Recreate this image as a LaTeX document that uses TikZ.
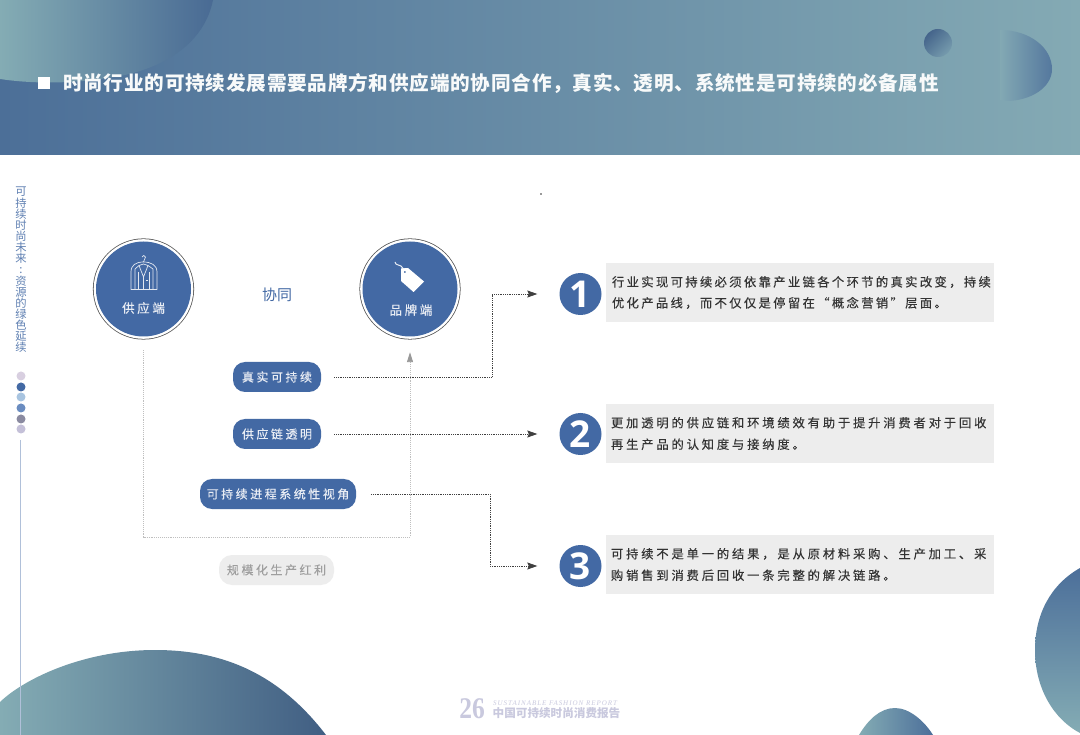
\documentclass[tikz,border=0pt]{standalone}
\usepackage{fontspec}
\usetikzlibrary{arrows.meta,calc}
\setmainfont{Liberation Serif}
\newfontfamily\cjk{Noto Sans CJK SC}
\newfontfamily\cjksp[LetterSpace=21,FakeBold=0.25]{Noto Sans CJK SC}
\newfontfamily\cjkboxa[LetterSpace=19.2,FakeBold=0.25]{Noto Sans CJK SC}
\newfontfamily\cjkboxb[LetterSpace=23,FakeBold=0.25]{Noto Sans CJK SC}
\newfontfamily\cjktitle[LetterSpace=4]{Noto Sans CJK SC}
\newfontfamily\numfont{Open Sans}
\newfontfamily\pgfont[FakeStretch=0.85]{Liberation Serif}
\newcommand{\fwc}{\char"FF0C\relax}
\definecolor{hdrA}{HTML}{4C6F98}
\definecolor{hdrM}{HTML}{7BA1B0}
\definecolor{hdrB}{HTML}{84AAB4}
\definecolor{deep}{HTML}{4C6F9A}
\definecolor{teal}{HTML}{84ACB4}
\definecolor{pillblue}{HTML}{4369A4}
\definecolor{boxgrey}{HTML}{EDEDED}
\definecolor{foot}{HTML}{C9C9DE}
\definecolor{dotA}{HTML}{D8CFE0}
\definecolor{dotC}{HTML}{A8C4E0}
\definecolor{dotD}{HTML}{6A8CC0}
\definecolor{dotE}{HTML}{8A8AA0}
\definecolor{dotF}{HTML}{C4C0D8}
\tikzset{
  pill/.style={fill=pillblue,rounded corners=12pt,minimum height=30pt,inner sep=0pt,text=white!88!pillblue,font=\cjksp\fontsize{12}{12}\selectfont},
  greypill/.style={fill=boxgrey,rounded corners=13pt,minimum height=30pt,minimum width=115pt,inner sep=0pt,text=black!38,font=\cjksp\fontsize{12}{12}\selectfont},
  hub/.style={circle,fill=pillblue,minimum size=95pt,inner sep=0pt},
  ring/.style={draw=black!65,line width=1.2pt},
  hublabel/.style={inner sep=0pt,text=white!88!pillblue,font=\cjksp\fontsize{12.5}{12.5}\selectfont},
  numdisc/.style={circle,fill=pillblue,minimum size=42pt,inner sep=0pt,text=white,font=\numfont\bfseries\fontsize{37}{37}\selectfont},
  textbox/.style={fill=boxgrey,minimum width=388pt,minimum height=59pt,inner xsep=5pt,inner ysep=0pt,align=left,text=black!80},
  boxa/.style={textbox,text width=376pt,font=\cjkboxa\fontsize{12.3}{21}\selectfont},
  boxb/.style={textbox,text width=378pt,font=\cjkboxb\fontsize{12.3}{21.5}\selectfont},
  flow/.style={draw=black!75,line width=0.8pt,densely dotted,-{Stealth[length=10pt,width=7pt,inset=1.5pt]}},
  backflow/.style={draw=black!25,line width=0.9pt,densely dotted,-{Stealth[length=10pt,width=6pt,inset=0pt,black!40]}},
  icon/.style={draw=white!85!pillblue,line width=0.7pt,line join=round},
  sdot/.style={circle,minimum size=9pt,inner sep=0pt}
}
\begin{document}
\begin{tikzpicture}[x=1pt,y=-1pt]
\useasboundingbox (0,0) rectangle (1080,735);
\clip (0,0) rectangle (1080,735);
\fill[white] (0,0) rectangle (1080,735);

% header band
\shade[left color=hdrA,middle color=hdrM,right color=hdrB] (0,0) rectangle (1080,155);
\shade[left color=teal,right color=deep!96!black] (0,0) -- (213,0) .. controls (205,40) and (170,65) .. (125,75) .. controls (85,83) and (40,85) .. (0,79) -- cycle;
\shade[left color=hdrB!85!hdrM,right color=deep!85!hdrB] (1000,30) .. controls (1030,30) and (1052,48) .. (1052,69) .. controls (1052,88) and (1030,101) .. (1006,101) .. controls (1003,101) and (1001,100) .. (1000,100) -- cycle;
\shade[top color=deep!90!black,bottom color=hdrB!75!deep,shading angle=45] (938,43) circle (14);

% title
\node[fill=white,minimum size=12pt,inner sep=0pt] (bullet) at (44,83) {};
\node[anchor=west,inner sep=0pt,text=white!94!teal,font=\cjktitle\bfseries\fontsize{19.6}{20}\selectfont] (title) at (63,83) {时尚行业的可持续发展需要品牌方和供应端的协同合作\fwc 真实、透明、系统性是可持续的必备属性};

% side text
\node[inner sep=0pt,align=center,text=pillblue!85!white,font=\cjk\fontsize{11.3}{11.13}\selectfont] (side) at (21,270) {可\\持\\续\\时\\尚\\未\\来\\:\\资\\源\\的\\绿\\色\\延\\续};
\node[sdot,fill=dotA] (d1) at (21,376) {};
\node[sdot,fill=pillblue] (d2) at (21,387) {};
\node[sdot,fill=dotC] (d3) at (21,397) {};
\node[sdot,fill=dotD] (d4) at (21,408) {};
\node[sdot,fill=dotE] (d5) at (21,419) {};
\node[sdot,fill=dotF] (d6) at (21,429) {};
\coordinate (speck) at (541,194);
\fill[black!80] (speck) circle (0.8);

% bottom blobs
\shade[left color=teal,right color=deep!85!black] (0,702) .. controls (25,678) and (85,650) .. (155,650) .. controls (225,650) and (280,675) .. (326,735) -- (0,735) -- cycle;
\shade[left color=teal,right color=deep] (859,735) .. controls (868,720) and (880,708) .. (895,708) .. controls (910,708) and (925,722) .. (933,735) -- cycle;
\shade[top color=deep,middle color=teal,bottom color=teal] (1080,568) .. controls (1050,585) and (1035,615) .. (1035,650) .. controls (1035,690) and (1055,720) .. (1080,733) -- cycle;
\coordinate (lineA) at (20.5,440);
\coordinate (lineB) at (20.5,735);
\draw[pillblue!42!white,line width=0.8pt] (lineA) -- (lineB);

% hubs
\node[hub] (sup) at (143.5,289) {};
\node[hub] (brand) at (410,289) {};
\draw[ring] (sup) circle (50);
\draw[ring] (brand) circle (50);
\draw[white,line width=1.6pt] (sup) circle (49);
\draw[white,line width=1.6pt] (brand) circle (49);
\node[hublabel] (supl) at (143.5,308) {供应端};
\node[hublabel] (brandl) at (411,310) {品牌端};
\node[inner sep=0pt,text=pillblue,font=\cjk\fontsize{15}{15}\selectfont] (xt) at (277,295) {协同};

% jacket icon
\draw[icon] (143.5,262) .. controls (143.5,259) and (146,259) .. (145.5,257) .. controls (145,255) and (142.5,255) .. (142,257);
\draw[icon] (131,289.5) -- (131,272) .. controls (131,265) and (136,262) .. (143.5,262) .. controls (151,262) and (157,265) .. (157,272) -- (157,289.5) -- cycle;
\draw[icon] (135,289.5) -- (135,269) -- (139,265.5) -- (143.5,277) -- (148,265.5) -- (153,269) -- (153,289.5);
\draw[icon] (139,265.5) -- (143.5,264) -- (148,265.5);
\draw[icon] (143.5,277) -- (143.5,289.5);
\draw[icon] (138.5,272) -- (138.5,289.5) (149,272) -- (149,289.5);
\draw[icon] (145.5,280) -- (148,280);

% tag icon
\draw[white!90!pillblue,line width=1pt] (395,262) .. controls (396,266) and (399,264) .. (401,266) .. controls (402,267) and (403,269) .. (405,270);
\fill[white,even odd rule] (401,268.5) -- (408,268) -- (424,281.5) -- (413.5,292) -- (401,281) -- cycle (404.8,272) circle (1.3);

% pills
\node[pill,minimum width=88pt] (p1) at (277,377) {真实可持续};
\node[pill,minimum width=88pt] (p2) at (277,434) {供应链透明};
\node[pill,minimum width=156pt] (p3) at (278,494) {可持续进程系统性视角};
\node[greypill] (p4) at (276.5,570) {规模化生产红利};

% numbered discs
\node[numdisc] (n1) at (580.5,294) {1};
\node[numdisc] (n2) at (580.5,434) {2};
\node[numdisc] (n3) at (580.5,566) {3};

% text boxes
\node[boxa] (b1) at (800,292.5) {行业实现可持续必须依靠产业链各个环节的真实改变\fwc 持续\\优化产品线\fwc 而不仅仅是停留在“概念营销”层面。};
\node[boxb] (b2) at (800,433.5) {更加透明的供应链和环境绩效有助于提升消费者对于回收\\再生产品的认知度与接纳度。};
\node[boxb] (b3) at (800,564.5) {可持续不是单一的结果\fwc 是从原材料采购、生产加工、采\\购销售到消费后回收一条完整的解决链路。};

% connectors
\draw[backflow] ([yshift=-13.5pt]sup.south) -- (sup.south |- 0,537) -- (brand.south |- 0,537) -- ([yshift=-15.5pt]brand.south);
\draw[flow] ([xshift=13pt]p1.east) -- (492,377) -- (492,294) -- ([xshift=-22pt]n1.west);
\draw[flow] ([xshift=13pt]p2.east) -- ([xshift=-22pt]n2.west);
\draw[flow] ([xshift=15pt]p3.east) -- (490,494) -- (490,566) -- ([xshift=-22pt]n3.west);

% footer
\node[inner sep=0pt,text=foot,font=\pgfont\bfseries\fontsize{30}{30}\selectfont] (pg) at (472,709) {26};
\node[anchor=west,inner sep=0pt,text=foot,font=\itshape\fontsize{7}{7}\selectfont] (fen) at (493,703) {\addfontfeature{LetterSpace=14}SUSTAINABLE FASHION REPORT};
\node[anchor=west,inner sep=0pt,text=foot,font=\cjk\bfseries\fontsize{11.6}{12}\selectfont] (fcn) at (492.5,713.5) {中国可持续时尚消费报告};
\end{tikzpicture}
\end{document}
